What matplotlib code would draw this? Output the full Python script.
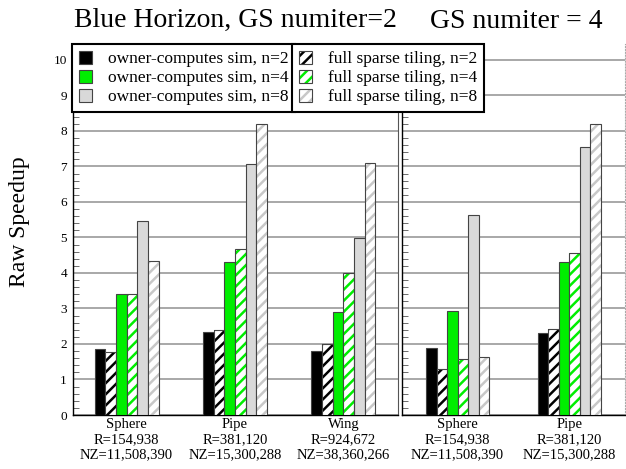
import matplotlib
matplotlib.use("Agg")
import matplotlib.pyplot as plt
import numpy as np
from matplotlib.patches import Patch

plt.rcParams['font.family'] = ['Liberation Serif', 'DejaVu Serif']
plt.rcParams['hatch.linewidth'] = 1.8

# data
cats_it2 = ["Sphere\nR=154,938\nNZ=11,508,390",
            "Pipe\nR=381,120\nNZ=15,300,288",
            "Wing\nR=924,672\nNZ=38,360,266"]
cats_it4 = ["Sphere\nR=154,938\nNZ=11,508,390",
            "Pipe\nR=381,120\nNZ=15,300,288"]

# GS numiter = 2
it2_oc_n2 = [1.85, 2.33, 1.80]
it2_fst_n2 = [1.78, 2.39, 2.01]
it2_oc_n4 = [3.41, 4.31, 2.90]
it2_fst_n4 = [3.41, 4.68, 3.99]
it2_oc_n8 = [5.47, 7.06, 4.99]
it2_fst_n8 = [4.35, 8.20, 7.09]

# GS numiter = 4
it4_oc_n2 = [1.88, 2.30]
it4_fst_n2 = [1.29, 2.41]
it4_oc_n4 = [2.94, 4.31]
it4_fst_n4 = [1.57, 4.57]
it4_oc_n8 = [5.62, 7.56]
it4_fst_n8 = [1.64, 8.19]

labels_oc = ["owner-computes sim, n=2", "owner-computes sim, n=4", "owner-computes sim, n=8"]
labels_fst = ["full sparse tiling, n=2", "full sparse tiling, n=4", "full sparse tiling, n=8"]

BLACK = "#000000"
GREEN = "#00ee00"
GRAY = "#d9d9d9"
HGRAY = "#c8c8c8"
EDGE = "#444444"


def draw_panel(ax, cats, series, width):
    x = np.arange(len(cats))
    colors = [BLACK, BLACK, GREEN, GREEN, GRAY, HGRAY]
    for i, vals in enumerate(series):
        pos = x + (i - 2.5) * width
        if i % 2 == 0:
            ax.bar(pos, vals, width, color=colors[i], edgecolor=EDGE,
                   linewidth=0.8, zorder=3)
        else:
            # hatched bar: stripes in series colour, then outline on top
            ax.bar(pos, vals, width, color="white", edgecolor=colors[i],
                   hatch="///", linewidth=0, zorder=3)
            ax.bar(pos, vals, width, fill=False, edgecolor=EDGE,
                   linewidth=0.8, zorder=4)
    ax.set_xlim(-0.5, len(cats) - 0.5)
    ax.set_ylim(0, 10.45)
    ax.set_yticks(range(0, 11))
    ax.set_yticks(np.arange(0, 10.45, 0.2), minor=True)
    ax.yaxis.grid(True, which="major", color="#999999", linewidth=1.2, zorder=0)
    ax.set_xticks(x)
    ax.set_xticklabels(cats, fontsize=10.5, linespacing=1.22)
    ax.tick_params(axis="x", length=0, pad=2)
    ax.tick_params(axis="y", which="major", direction="in", length=0, labelsize=9.5, pad=4)
    ax.tick_params(axis="y", which="minor", direction="in", length=4, width=0.6, color="#555555")
    ax.spines["top"].set_visible(False)
    ax.spines["left"].set_linewidth(1.0)
    ax.spines["bottom"].set_linewidth(1.0)


fig = plt.figure(figsize=(6.26, 4.69), dpi=100)
ax1 = fig.add_axes([72.5 / 626, 1 - 415 / 469, 325 / 626, 371 / 469])
ax2 = fig.add_axes([401.7 / 626, 1 - 415 / 469, 223.3 / 626, 371 / 469])

draw_panel(ax1, cats_it2,
           [it2_oc_n2, it2_fst_n2, it2_oc_n4, it2_fst_n4, it2_oc_n8, it2_fst_n8], 0.098)
draw_panel(ax2, cats_it4,
           [it4_oc_n2, it4_fst_n2, it4_oc_n4, it4_fst_n4, it4_oc_n8, it4_fst_n8], 0.094)

ax1.spines["right"].set_color("#555555")
ax2.tick_params(axis="y", which="major", labelleft=False)
ax2.spines["right"].set_linestyle(":")
ax2.spines["right"].set_color("#aaaaaa")

# legends
h_oc = [Patch(facecolor=c, edgecolor=EDGE, linewidth=0.8) for c in [BLACK, GREEN, GRAY]]
h_fst = [(Patch(facecolor="white", edgecolor=c, hatch="///", linewidth=0),
          Patch(fill=False, edgecolor=EDGE, linewidth=0.8))
         for c in [BLACK, GREEN, HGRAY]]

leg_kw = dict(loc="upper left", fontsize=12.5, frameon=True, fancybox=False,
              framealpha=1, borderaxespad=0, handlelength=0.75, handleheight=0.75,
              handletextpad=0.9, labelspacing=0.15, borderpad=0.4)
leg1 = fig.legend(h_oc, labels_oc, bbox_to_anchor=(72 / 626, 1 - 44 / 469), **leg_kw)
leg2 = fig.legend(h_fst, labels_fst, bbox_to_anchor=(292 / 626, 1 - 44 / 469), **leg_kw)
for leg in (leg1, leg2):
    leg.get_frame().set_edgecolor("black")
    leg.get_frame().set_linewidth(1.5)
    leg.set_zorder(10)

# titles and axis label
fig.text(235 / 626, 1 - 27 / 469, "Blue Horizon, GS numiter=2", fontsize=20,
         ha="center", va="baseline")
fig.text(516 / 626, 1 - 28 / 469, "GS numiter = 4", fontsize=20,
         ha="center", va="baseline")
fig.text(20 / 626, 1 - 222 / 469, "Raw Speedup", fontsize=17, rotation=90,
         ha="center", va="center")

fig.savefig("out.png", dpi=100)
